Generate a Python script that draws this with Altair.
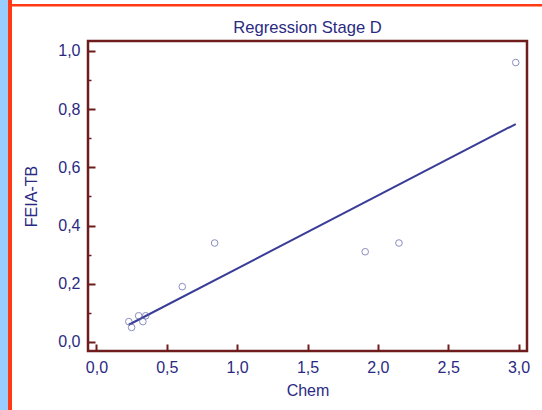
import altair as alt
import pandas as pd

chem = [0.23, 0.25, 0.30, 0.35, 0.33, 0.61, 0.84, 1.91, 2.15, 2.98]
feia = [0.07, 0.05, 0.09, 0.09, 0.07, 0.19, 0.34, 0.31, 0.34, 0.96]
x_ticks = [0.0, 0.5, 1.0, 1.5, 2.0, 2.5, 3.0]
y_ticks = [0.0, 0.2, 0.4, 0.6, 0.8, 1.0]
y_minor = [0.1, 0.3, 0.5, 0.7, 0.9]
title_text = ["Regression Stage D"]

df = pd.DataFrame({"chem": chem, "feia": feia})
deco = pd.DataFrame({"d": [0]})
tdf = pd.DataFrame({"t": title_text})

NAVY = "#2a2a82"
FRAME = "#6e1c1c"
FONT = "Liberation Sans"

xs = alt.Scale(domain=[-0.06, 3.06], nice=False, zero=False)
ys = alt.Scale(domain=[-0.031, 1.034], nice=False, zero=False)

lbl_expr = "replace(format(datum.value, '.1f'), '.', ',')"

x_lab = alt.Axis(orient="bottom", values=x_ticks, labelExpr=lbl_expr, ticks=False, domain=False,
                 grid=False, labelFont=FONT, labelFontSize=16, labelColor=NAVY, labelPadding=8,
                 title="Chem", titleFont=FONT, titleFontSize=16, titleFontWeight="normal",
                 titleColor=NAVY, titlePadding=7)
y_lab = alt.Axis(orient="left", values=y_ticks, labelExpr=lbl_expr, ticks=False, domain=False,
                 grid=False, labelFont=FONT, labelFontSize=16, labelColor=NAVY, labelPadding=8,
                 title="FEIA-TB", titleFont=FONT, titleFontSize=16, titleFontWeight="normal",
                 titleColor=NAVY, titlePadding=18)
x_tk = alt.Axis(orient="bottom", values=x_ticks, labels=False, domain=False, grid=False,
                ticks=True, tickSize=7, tickWidth=2, tickColor=FRAME, offset=-7, title=None)
y_tk = alt.Axis(orient="left", values=y_ticks, labels=False, domain=False, grid=False,
                ticks=True, tickSize=7, tickWidth=2, tickColor=FRAME, offset=-7, title=None)
y_mn = alt.Axis(orient="left", values=y_minor, labels=False, domain=False, grid=False,
                ticks=True, tickSize=3, tickWidth=1.5, tickColor=FRAME, offset=-3, title=None)

blue_bar = alt.Chart(deco).mark_rect(color="#99ccff").encode(
    x=alt.value(-88), x2=alt.value(-80), y=alt.value(-41), y2=alt.value(369))
red_v = alt.Chart(deco).mark_rect(color="#ff3a14").encode(
    x=alt.value(-80), x2=alt.value(-76), y=alt.value(-41), y2=alt.value(369))
red_h = alt.Chart(deco).mark_rect(color="#ff3a14").encode(
    x=alt.value(-76), x2=alt.value(454), y=alt.value(-37), y2=alt.value(-34.5))

title = alt.Chart(tdf).mark_text(font=FONT, fontSize=16.6, color=NAVY, align="center",
                                 baseline="alphabetic").encode(
    text="t:N", x=alt.value(219.5), y=alt.value(-8.3))

points = alt.Chart(df).mark_point(shape="circle", filled=False, size=44, strokeWidth=1,
                                  color="#5a5ea8").encode(
    x=alt.X("chem:Q", scale=xs, axis=x_lab),
    y=alt.Y("feia:Q", scale=ys, axis=y_lab))

line = alt.Chart(df).transform_regression("chem", "feia").mark_line(
    color="#3a3d98", strokeWidth=2).encode(
    x=alt.X("chem:Q", scale=xs, axis=x_tk),
    y=alt.Y("feia:Q", scale=ys, axis=y_tk))

minor = alt.Chart(df).mark_point(opacity=0).encode(
    x=alt.X("chem:Q", scale=xs, axis=None),
    y=alt.Y("feia:Q", scale=ys, axis=y_mn))

chart = alt.layer(blue_bar, red_v, red_h, title, minor, line, points).resolve_axis(
    x="independent", y="independent"
).properties(
    width=439, height=310,
    background="white",
    autosize=alt.AutoSizeParams(type="none"),
    padding={"left": 88, "top": 41, "right": 15, "bottom": 59},
).configure_view(stroke=FRAME, strokeWidth=2.5)

chart.save("out.html", embed_options={"renderer": "svg", "actions": False})
